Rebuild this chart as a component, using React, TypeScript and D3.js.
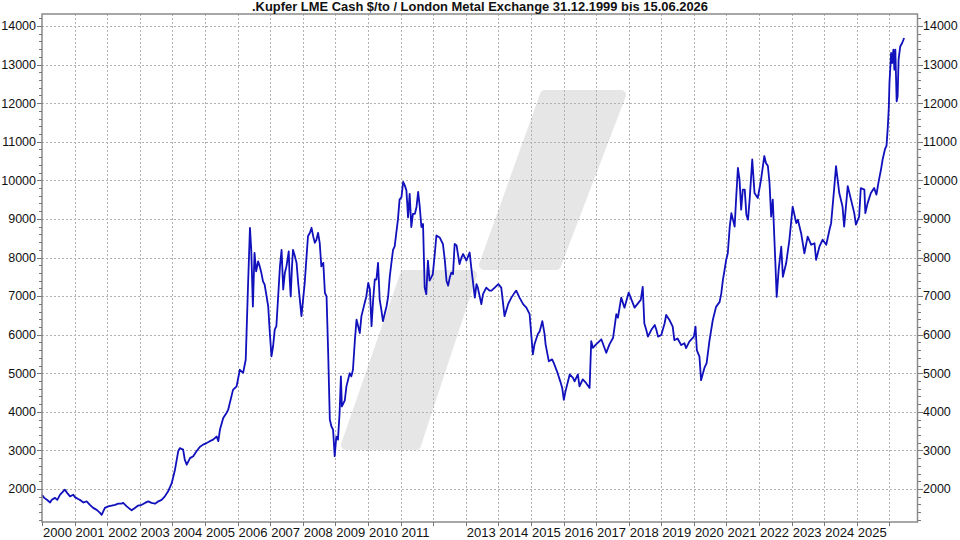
import React from "react";
import * as d3 from "d3";

const title = ".Kupfer LME Cash $/to / London Metal Exchange 31.12.1999 bis 15.06.2026";

const yMajorTicks = [2000, 3000, 4000, 5000, 6000, 7000, 8000, 9000, 10000, 11000, 12000, 13000, 14000];
const yearTicks = d3.range(2000, 2027);
const yearLabels = [2000, 2001, 2002, 2003, 2004, 2005, 2006, 2007, 2008, 2009, 2010, 2011, 2013, 2014, 2015, 2016, 2017, 2018, 2019, 2020, 2021, 2022, 2023, 2024, 2025];

// [decimal year, LME cash price $/t]
const copper: [number, number][] = [
  [1999.997, 1850], [2000.07, 1770], [2000.15, 1720], [2000.25, 1650], [2000.30, 1720], [2000.40, 1770],
  [2000.47, 1720], [2000.55, 1850], [2000.65, 1940], [2000.70, 1985], [2000.77, 1900], [2000.86, 1810],
  [2000.96, 1850], [2001.01, 1790], [2001.11, 1740], [2001.16, 1720], [2001.27, 1650], [2001.37, 1680],
  [2001.47, 1590], [2001.57, 1510], [2001.68, 1460], [2001.78, 1380], [2001.83, 1330], [2001.88, 1420],
  [2001.93, 1510], [2002.03, 1550], [2002.14, 1570], [2002.24, 1590], [2002.34, 1620], [2002.44, 1620],
  [2002.49, 1640], [2002.60, 1550], [2002.70, 1480], [2002.75, 1450], [2002.85, 1510], [2002.95, 1570],
  [2003.06, 1590], [2003.16, 1640], [2003.26, 1680], [2003.36, 1640], [2003.47, 1620], [2003.57, 1680],
  [2003.67, 1720], [2003.77, 1810], [2003.87, 1940], [2003.98, 2150], [2004.08, 2500], [2004.18, 2980],
  [2004.23, 3060], [2004.33, 3020], [2004.38, 2760], [2004.44, 2630], [2004.54, 2800], [2004.64, 2850],
  [2004.74, 2980], [2004.84, 3090], [2004.94, 3150], [2005.05, 3190], [2005.15, 3240], [2005.25, 3280],
  [2005.36, 3360], [2005.41, 3240], [2005.46, 3540], [2005.56, 3840], [2005.66, 3970], [2005.71, 4050],
  [2005.86, 4570], [2005.97, 4660], [2006.07, 5090], [2006.17, 5010], [2006.25, 5350], [2006.32, 7250],
  [2006.38, 8770], [2006.42, 8200], [2006.47, 6730], [2006.52, 8120], [2006.57, 7640], [2006.63, 7900],
  [2006.68, 7770], [2006.73, 7600], [2006.78, 7380], [2006.83, 7300], [2006.89, 6990], [2006.94, 6730],
  [2006.99, 6040], [2007.04, 5440], [2007.09, 5700], [2007.14, 6130], [2007.19, 6220], [2007.24, 6910],
  [2007.30, 7770], [2007.35, 8200], [2007.40, 7170], [2007.45, 7600], [2007.50, 7770], [2007.57, 8160],
  [2007.60, 7430], [2007.63, 6990], [2007.67, 7770], [2007.70, 8200], [2007.76, 8030], [2007.81, 7860],
  [2007.86, 7340], [2007.91, 6910], [2007.96, 6480], [2008.01, 6910], [2008.06, 7340], [2008.11, 7950],
  [2008.16, 8550], [2008.22, 8640], [2008.27, 8770], [2008.32, 8550], [2008.37, 8380], [2008.42, 8460],
  [2008.47, 8640], [2008.52, 8380], [2008.57, 7770], [2008.63, 7860], [2008.68, 7080], [2008.73, 6990],
  [2008.78, 5520], [2008.83, 3800], [2008.88, 3620], [2008.93, 3540], [2008.98, 2850], [2009.03, 3360],
  [2009.08, 3280], [2009.13, 3970], [2009.17, 4920], [2009.20, 4140], [2009.29, 4300], [2009.34, 4660],
  [2009.44, 5000], [2009.49, 4920], [2009.54, 5090], [2009.60, 5870], [2009.65, 6390], [2009.70, 6220],
  [2009.75, 6040], [2009.80, 6480], [2009.85, 6650], [2009.90, 6820], [2009.95, 6990], [2010.01, 7340],
  [2010.06, 7170], [2010.11, 6220], [2010.16, 6910], [2010.21, 7430], [2010.26, 7430], [2010.31, 7860],
  [2010.36, 6910], [2010.41, 6650], [2010.46, 6350], [2010.52, 6560], [2010.57, 6730], [2010.62, 6990],
  [2010.67, 7510], [2010.72, 7860], [2010.77, 8200], [2010.82, 8290], [2010.87, 8640], [2010.92, 8980],
  [2010.97, 9500], [2011.03, 9570], [2011.08, 9960], [2011.13, 9870], [2011.18, 9740], [2011.23, 9040],
  [2011.28, 9650], [2011.33, 8790], [2011.38, 9130], [2011.44, 9130], [2011.49, 9310], [2011.54, 9700],
  [2011.59, 9310], [2011.64, 8790], [2011.69, 8870], [2011.74, 7220], [2011.79, 7050], [2011.84, 7920],
  [2011.89, 7400], [2011.94, 7480], [2011.99, 7570], [2012.05, 8090], [2012.10, 8570], [2012.20, 8520],
  [2012.30, 8350], [2012.36, 7920], [2012.41, 7400], [2012.46, 7270], [2012.51, 7480], [2012.56, 7610],
  [2012.61, 7570], [2012.66, 8350], [2012.72, 8310], [2012.76, 8090], [2012.81, 7830], [2012.87, 8000],
  [2012.92, 8090], [2013.02, 7920], [2013.12, 8130], [2013.17, 7740], [2013.28, 6960], [2013.33, 7310],
  [2013.37, 7220], [2013.48, 6790], [2013.53, 7050], [2013.63, 7220], [2013.73, 7140], [2013.79, 7140],
  [2013.89, 7220], [2014.00, 7310], [2014.09, 7220], [2014.19, 6480], [2014.30, 6790], [2014.40, 6960],
  [2014.50, 7090], [2014.55, 7140], [2014.65, 6960], [2014.76, 6790], [2014.86, 6700], [2014.96, 6530],
  [2015.06, 5490], [2015.11, 5750], [2015.21, 6010], [2015.27, 6090], [2015.35, 6350], [2015.42, 6010],
  [2015.45, 5750], [2015.55, 5310], [2015.65, 5360], [2015.70, 5270], [2015.80, 5050], [2015.90, 4790],
  [2015.96, 4620], [2016.01, 4310], [2016.06, 4530], [2016.19, 4970], [2016.29, 4880], [2016.34, 4790],
  [2016.44, 4970], [2016.49, 4660], [2016.59, 4840], [2016.69, 4750], [2016.80, 4620], [2016.85, 5830],
  [2016.90, 5660], [2017.00, 5750], [2017.16, 5880], [2017.31, 5530], [2017.41, 5750], [2017.52, 5920],
  [2017.62, 6530], [2017.67, 6440], [2017.77, 6960], [2017.87, 6700], [2018.00, 7090], [2018.18, 6700],
  [2018.32, 6850], [2018.37, 6900], [2018.43, 7240], [2018.48, 6290], [2018.54, 6120], [2018.59, 5950],
  [2018.69, 6120], [2018.80, 6250], [2018.85, 6120], [2018.90, 5950], [2019.00, 5990], [2019.10, 6290],
  [2019.15, 6510], [2019.25, 6380], [2019.35, 6210], [2019.40, 5860], [2019.50, 5900], [2019.61, 5730],
  [2019.71, 5780], [2019.76, 5650], [2019.86, 5820], [2020.00, 5950], [2020.05, 6210], [2020.09, 5600],
  [2020.17, 5430], [2020.22, 4820], [2020.32, 5130], [2020.39, 5260], [2020.48, 5860], [2020.58, 6380],
  [2020.68, 6720], [2020.79, 6850], [2020.84, 7070], [2020.89, 7420], [2020.94, 7670], [2020.99, 7940],
  [2021.04, 8110], [2021.10, 8800], [2021.15, 9150], [2021.25, 8800], [2021.30, 9590], [2021.35, 10320],
  [2021.40, 10020], [2021.45, 9240], [2021.50, 9760], [2021.56, 9760], [2021.61, 9110], [2021.66, 8980],
  [2021.71, 9500], [2021.79, 10540], [2021.86, 9670], [2021.96, 9540], [2022.06, 10020], [2022.16, 10630],
  [2022.21, 10450], [2022.27, 10370], [2022.32, 9930], [2022.37, 9060], [2022.42, 9500], [2022.50, 7850],
  [2022.54, 6980], [2022.60, 7680], [2022.68, 8280], [2022.73, 7500], [2022.83, 7850], [2022.93, 8460],
  [2023.03, 9320], [2023.14, 8890], [2023.19, 8980], [2023.29, 8630], [2023.39, 8110], [2023.49, 8540],
  [2023.60, 8330], [2023.70, 8370], [2023.75, 7940], [2023.85, 8280], [2023.95, 8460], [2024.06, 8330],
  [2024.16, 8720], [2024.21, 8890], [2024.31, 9850], [2024.36, 10370], [2024.46, 9670], [2024.56, 9320],
  [2024.61, 8800], [2024.72, 9850], [2024.82, 9500], [2024.92, 9150], [2024.97, 8850], [2025.07, 9060],
  [2025.12, 9800], [2025.23, 9760], [2025.26, 9150], [2025.33, 9410], [2025.43, 9670], [2025.53, 9800],
  [2025.60, 9630], [2025.67, 9980], [2025.74, 10280], [2025.79, 10540], [2025.86, 10800], [2025.91, 10900],
  [2025.95, 11400], [2025.98, 11900], [2026.00, 12530], [2026.05, 13300], [2026.08, 13040], [2026.12, 13390],
  [2026.15, 12870], [2026.18, 13390], [2026.22, 12050], [2026.25, 12180], [2026.28, 13130], [2026.33, 13470],
  [2026.39, 13560], [2026.45, 13690],
];

const W = 960;
const H = 540;
const PL = 42;
const PR = 917.5;
const PT = 14;
const PB = 522;

export default function App() {
  const x = d3.scaleLinear().domain([2000, 2026.86]).range([PL, PR]);
  const y = d3.scaleLinear().domain([1145, 14311]).range([PB, PT]);
  const line = d3
    .line<[number, number]>()
    .x((d) => x(d[0]))
    .y((d) => y(d[1]));

  const minorTicks = d3.range(1200, 14301, 200).filter((v) => v % 1000 !== 0);
  const font = "'Liberation Sans', Arial, sans-serif";
  const wm = "#e6e6e6";

  return (
    <svg
      width={W}
      height={H}
      viewBox={`0 0 ${W} ${H}`}
      style={{ position: "absolute", left: 0, top: 0, background: "#fff" }}
    >
      <rect x={0} y={0} width={W} height={H} fill="#fff" />
      {/* watermark */}
      <g fill={wm} stroke={wm} strokeWidth={10} strokeLinejoin="round">
        <polygon points="405,275 472,275 416,445 346,445" />
        <polygon points="545,95 621,95 556,265 484,265" />
      </g>
      {/* grid */}
      <g stroke="#b2b2b2" strokeWidth={1} strokeDasharray="2,2" shapeRendering="crispEdges">
        {yMajorTicks.map((v) => (
          <line key={"gy" + v} x1={PL} x2={PR} y1={Math.round(y(v)) + 0.5} y2={Math.round(y(v)) + 0.5} />
        ))}
        {yearTicks.slice(1).map((t) => (
          <line key={"gx" + t} x1={Math.round(x(t)) + 0.5} x2={Math.round(x(t)) + 0.5} y1={PT} y2={PB} />
        ))}
      </g>
      {/* series */}
      <path d={line(copper) || ""} fill="none" stroke="#1010bc" strokeWidth={1.8} strokeLinejoin="round" />
      {/* frame */}
      <rect x={PL} y={PT} width={PR - PL} height={PB - PT} fill="none" stroke="#8a8a8a" strokeWidth={1.5} />
      {/* y ticks */}
      <g stroke="#777" strokeWidth={1} shapeRendering="crispEdges">
        {yMajorTicks.map((v) => (
          <g key={"t" + v}>
            <line x1={PL - 5} x2={PL} y1={Math.round(y(v)) + 0.5} y2={Math.round(y(v)) + 0.5} />
            <line x1={PR} x2={PR + 5} y1={Math.round(y(v)) + 0.5} y2={Math.round(y(v)) + 0.5} />
          </g>
        ))}
        {minorTicks.map((v) => (
          <g key={"m" + v}>
            <line x1={PL - 3} x2={PL} y1={Math.round(y(v)) + 0.5} y2={Math.round(y(v)) + 0.5} />
            <line x1={PR} x2={PR + 3} y1={Math.round(y(v)) + 0.5} y2={Math.round(y(v)) + 0.5} />
          </g>
        ))}
        {yearTicks.map((t) => (
          <line key={"xt" + t} x1={Math.round(x(t)) + 0.5} x2={Math.round(x(t)) + 0.5} y1={PB} y2={PB + 4} />
        ))}
      </g>
      {/* y labels */}
      <g fontFamily={font} fontSize={12.5} fill="#111">
        {yMajorTicks.map((v) => (
          <g key={"l" + v}>
            <text x={36} y={y(v)} dy="0.35em" textAnchor="end">
              {v}
            </text>
            <text x={923} y={y(v)} dy="0.35em" textAnchor="start">
              {v}
            </text>
          </g>
        ))}
      </g>
      {/* x labels */}
      <g fontFamily={font} fontSize={13} fill="#111">
        {yearLabels.map((t) => (
          <text key={"xl" + t} x={x(t) + 1} y={537}>
            {t}
          </text>
        ))}
      </g>
      {/* title */}
      <text
        x={480}
        y={11}
        textAnchor="middle"
        fontFamily={font}
        fontWeight="bold"
        fontSize={12.5}
        fill="#111"
        textLength={456}
        lengthAdjust="spacingAndGlyphs"
      >
        {title}
      </text>
    </svg>
  );
}
